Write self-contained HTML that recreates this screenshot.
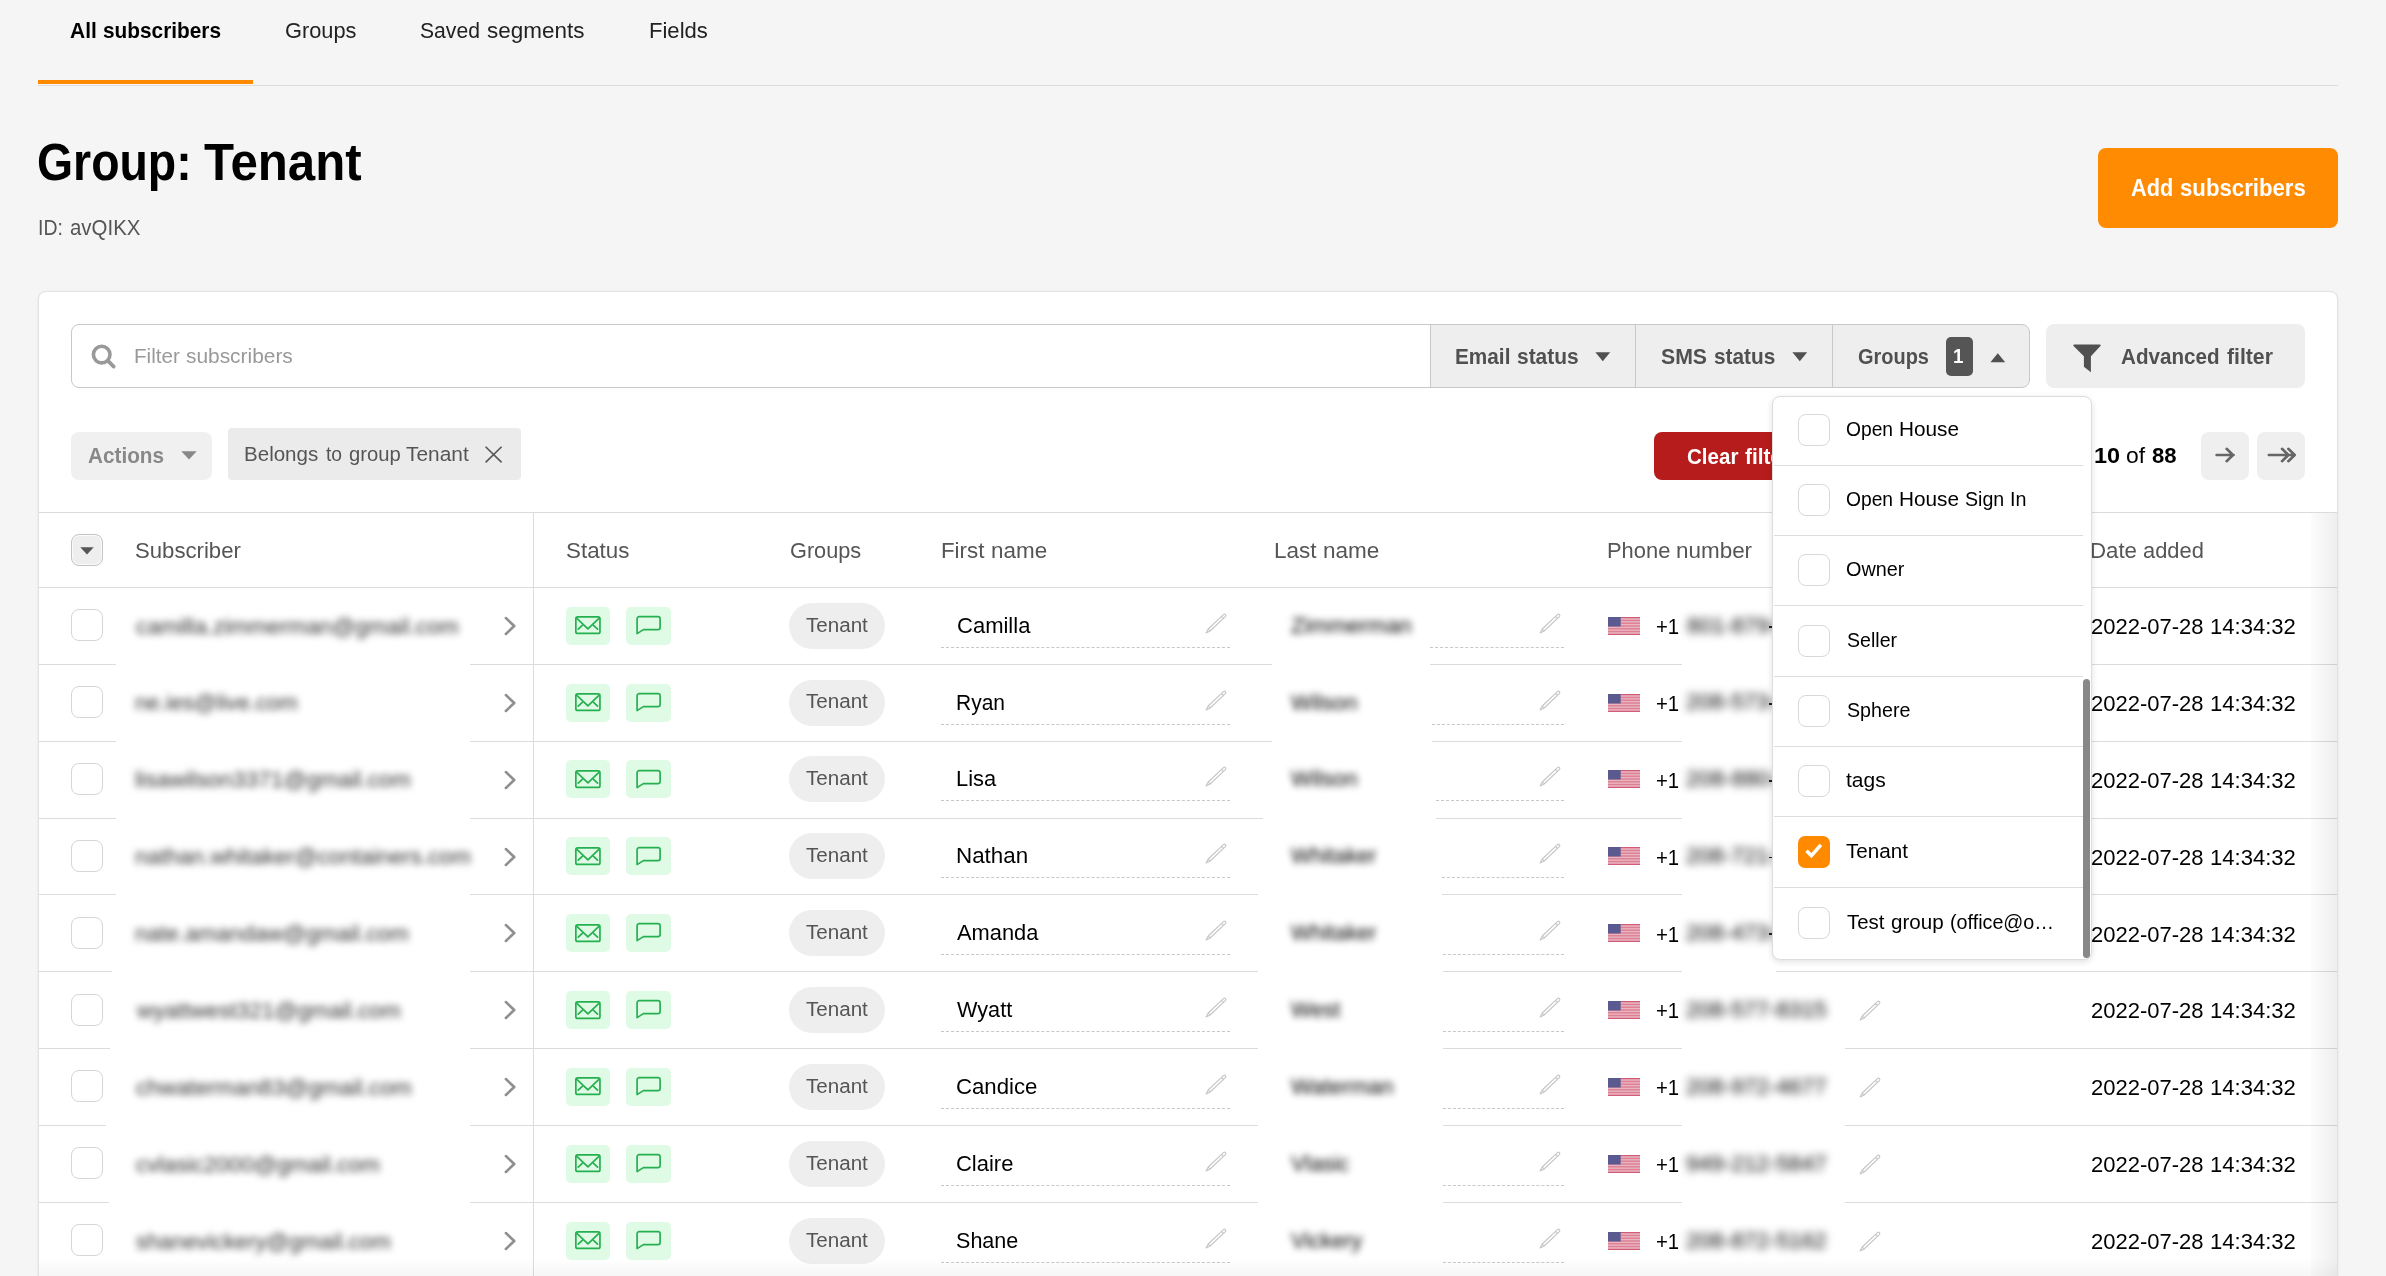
<!DOCTYPE html>
<html lang="en"><head><meta charset="utf-8"><title>Subscribers</title>
<style>
html,body{margin:0;padding:0;background:#f5f5f5;}
body{font-family:"Liberation Sans",sans-serif;overflow:hidden;}
#root{position:relative;width:2386px;height:1276px;overflow:hidden;background:#f5f5f5;}
.t{position:absolute;white-space:nowrap;}
.t span{display:inline-block;transform-origin:0 50%;}
.t i.p{display:inline-block;width:0;height:0;}
.r{position:absolute;box-sizing:border-box;}
svg{position:absolute;overflow:visible;}

</style></head>
<body>
<div id="root">
<div class="t" style="left:69.60px;top:16.00px;font-size:22.5px;line-height:29px;font-weight:bold;color:#000;"><span style="transform:scaleX(0.9309)">All</span></div>
<div class="t" style="left:102.60px;top:16.00px;font-size:22.5px;line-height:29px;font-weight:bold;color:#000;"><span style="transform:scaleX(0.9248)">subscribers</span></div>
<div class="t" style="left:284.53px;top:16.00px;font-size:22.5px;line-height:29px;font-weight:normal;color:#222;"><span style="transform:scaleX(0.9692)">Groups</span></div>
<div class="t" style="left:419.96px;top:16.00px;font-size:22.5px;line-height:29px;font-weight:normal;color:#222;"><span style="transform:scaleX(0.9392)">Saved</span></div>
<div class="t" style="left:486.90px;top:16.00px;font-size:22.5px;line-height:29px;font-weight:normal;color:#222;"><span style="transform:scaleX(0.9980)">segments</span></div>
<div class="t" style="left:649.02px;top:16.00px;font-size:22.5px;line-height:29px;font-weight:normal;color:#222;"><span style="transform:scaleX(0.9801)">Fields</span></div>
<div class="r" style="left:38px;top:85px;width:2300px;height:1px;background:#dcdcdc"></div>
<div class="r" style="left:38px;top:80px;width:215px;height:4px;background:#ff8a00"></div>
<div class="t" style="left:37.38px;top:130.40px;font-size:51px;line-height:66px;font-weight:bold;color:#000;"><span style="transform:scaleX(0.9099)">Group:</span></div>
<div class="t" style="left:203.50px;top:130.40px;font-size:51px;line-height:66px;font-weight:bold;color:#000;"><span style="transform:scaleX(0.9645)">Tenant</span></div>
<div class="t" style="left:37.79px;top:214.00px;font-size:21.5px;line-height:28px;font-weight:normal;color:#555;"><span style="transform:scaleX(0.9059)">ID:</span></div>
<div class="t" style="left:70.20px;top:214.00px;font-size:21.5px;line-height:28px;font-weight:normal;color:#555;"><span style="transform:scaleX(0.9506)">avQIKX</span></div>
<div class="r" style="left:2098px;top:148px;width:240px;height:80px;background:#ff8b03;border-radius:8px"></div>
<div class="t" style="left:2130.90px;top:172.00px;font-size:24px;line-height:31px;font-weight:bold;color:#fff;"><span style="transform:scaleX(0.9045)">Add</span></div>
<div class="t" style="left:2180.30px;top:172.00px;font-size:24px;line-height:31px;font-weight:bold;color:#fff;"><span style="transform:scaleX(0.9247)">subscribers</span></div>
<div class="r" style="left:38px;top:291px;width:2300px;height:1000px;background:#fff;border:1px solid #e2e2e2;border-radius:8px;box-shadow:0 1px 3px rgba(0,0,0,.08)"></div>
<div class="r" style="left:71px;top:324px;width:1360px;height:64px;background:#fff;border:1px solid #c8c8c8;border-radius:8px 0 0 8px"></div>
<svg style="left:89.5px;top:344px" width="26" height="26" viewBox="0 0 26 26"><circle cx="11.7" cy="10.6" r="8.3" fill="none" stroke="#999" stroke-width="3.6"/><line x1="17.8" y1="16.6" x2="23.7" y2="22.6" stroke="#999" stroke-width="3.7" stroke-linecap="round"/></svg>
<div class="t" style="left:133.62px;top:342.00px;font-size:21px;line-height:27px;font-weight:normal;color:#999;"><span style="transform:scaleX(0.9831)">Filter</span></div>
<div class="t" style="left:186.10px;top:342.00px;font-size:21px;line-height:27px;font-weight:normal;color:#999;"><span style="transform:scaleX(0.9947)">subscribers</span></div>
<div class="r" style="left:1430px;top:324px;width:206px;height:64px;background:#eee;border:1px solid #c8c8c8"></div>
<div class="r" style="left:1635px;top:324px;width:198px;height:64px;background:#eee;border:1px solid #c8c8c8"></div>
<div class="r" style="left:1832px;top:324px;width:198px;height:64px;background:#eee;border:1px solid #c8c8c8;border-radius:0 8px 8px 0"></div>
<div class="t" style="left:1454.63px;top:342.60px;font-size:21.5px;line-height:28px;font-weight:bold;color:#505050;"><span style="transform:scaleX(0.9659)">Email</span></div>
<div class="t" style="left:1516.60px;top:342.60px;font-size:21.5px;line-height:28px;font-weight:bold;color:#505050;"><span style="transform:scaleX(0.9737)">status</span></div>
<div class="t" style="left:1661.00px;top:342.60px;font-size:21.5px;line-height:28px;font-weight:bold;color:#505050;"><span style="transform:scaleX(0.9881)">SMS</span></div>
<div class="t" style="left:1713.70px;top:342.60px;font-size:21.5px;line-height:28px;font-weight:bold;color:#505050;"><span style="transform:scaleX(0.9674)">status</span></div>
<div class="t" style="left:1858.00px;top:342.60px;font-size:21.5px;line-height:28px;font-weight:bold;color:#505050;"><span style="transform:scaleX(0.9282)">Groups</span></div>
<svg style="left:1595px;top:352px" width="16" height="10"><path d="M0.4 0.3h14.8l-7.4 9z" fill="#505050"/></svg>
<svg style="left:1792.3px;top:352px" width="16" height="10"><path d="M0.4 0.3h14.8l-7.4 9z" fill="#505050"/></svg>
<div class="r" style="left:1945.5px;top:337px;width:27.5px;height:39px;background:#555;border-radius:5px"></div>
<div class="t" style="left:1953.06px;top:343.40px;font-size:20px;line-height:26px;font-weight:bold;color:#fff;"><span style="transform:scaleX(0.9400)">1</span></div>
<svg style="left:1989.5px;top:353px" width="16" height="10"><path d="M0.4 9.3h14.8l-7.4-9z" fill="#505050"/></svg>
<div class="r" style="left:2046px;top:324px;width:259px;height:64px;background:#eee;border-radius:8px"></div>
<svg style="left:2073.4px;top:343.8px" width="28" height="29" viewBox="0 0 28 29"><path d="M1.2 0.4h25.6a0.9 0.9 0 0 1 0.65 1.5L17.9 12.3v15.9l-7-5.4V12.3L0.55 1.9a0.9 0.9 0 0 1 0.65-1.5z" fill="#505050"/></svg>
<div class="t" style="left:2120.70px;top:342.60px;font-size:21.5px;line-height:28px;font-weight:bold;color:#505050;"><span style="transform:scaleX(0.9594)">Advanced</span></div>
<div class="t" style="left:2226.50px;top:342.60px;font-size:21.5px;line-height:28px;font-weight:bold;color:#505050;"><span style="transform:scaleX(0.9847)">filter</span></div>
<div class="r" style="left:71px;top:432px;width:141px;height:48px;background:#f0f0f0;border-radius:8px"></div>
<div class="t" style="left:87.60px;top:441.80px;font-size:21.5px;line-height:28px;font-weight:bold;color:#888;"><span style="transform:scaleX(0.9635)">Actions</span></div>
<svg style="left:180.5px;top:451.4px" width="16" height="9"><path d="M0.3 0.3h15.4l-7.7 8.2z" fill="#888"/></svg>
<div class="r" style="left:228px;top:428px;width:293px;height:52px;background:#ebebeb;border-radius:4px"></div>
<div class="t" style="left:244.10px;top:440.30px;font-size:20.5px;line-height:27px;font-weight:normal;color:#555;"><span style="transform:scaleX(1.0023)">Belongs</span></div>
<div class="t" style="left:325.90px;top:440.30px;font-size:20.5px;line-height:27px;font-weight:normal;color:#555;"><span style="transform:scaleX(0.9404)">to</span></div>
<div class="t" style="left:348.70px;top:440.30px;font-size:20.5px;line-height:27px;font-weight:normal;color:#555;"><span style="transform:scaleX(0.9860)">group</span></div>
<div class="t" style="left:406.40px;top:440.30px;font-size:20.5px;line-height:27px;font-weight:normal;color:#555;"><span style="transform:scaleX(1.0185)">Tenant</span></div>
<svg style="left:485px;top:446px" width="17" height="17"><path d="M0.6 0.8l16 15.6M16.6 0.8l-16 15.6" stroke="#555" stroke-width="1.6" fill="none"/></svg>
<div class="r" style="left:1654px;top:432px;width:200px;height:48px;background:#b71c1c;border-radius:8px"></div>
<div class="t" style="left:1687.10px;top:442.00px;font-size:22px;line-height:29px;font-weight:bold;color:#fff;"><span style="transform:scaleX(0.9338)">Clear</span></div>
<div class="t" style="left:1745.20px;top:442.00px;font-size:22px;line-height:29px;font-weight:bold;color:#fff;"><span style="transform:scaleX(0.9436)">filter</span></div>
<div class="t" style="left:2093.53px;top:441.00px;font-size:22px;line-height:29px;font-weight:bold;color:#000;"><span style="transform:scaleX(1.0673)">10</span></div>
<div class="t" style="left:2126.00px;top:441.00px;font-size:22px;line-height:29px;font-weight:normal;color:#000;"><span style="transform:scaleX(1.0398)">of</span></div>
<div class="t" style="left:2152.00px;top:441.00px;font-size:22px;line-height:29px;font-weight:bold;color:#000;"><span style="transform:scaleX(1.0027)">88</span></div>
<div class="r" style="left:2201px;top:432px;width:48px;height:48px;background:#efefef;border-radius:8px"></div>
<div class="r" style="left:2257px;top:432px;width:48px;height:48px;background:#efefef;border-radius:8px"></div>
<svg style="left:2214px;top:446px" width="22" height="18"><path d="M2.6 9h17M12.6 2.8l6.4 6.2-6.4 6.2" stroke="#666" stroke-width="2.6" fill="none" stroke-linecap="round" stroke-linejoin="round"/></svg>
<svg style="left:2266px;top:446px" width="30" height="18"><path d="M2.8 9h23M16 2.8l6.4 6.2-6.4 6.2M22.3 2.8l6.4 6.2-6.4 6.2" stroke="#666" stroke-width="2.6" fill="none" stroke-linecap="round" stroke-linejoin="round"/></svg>
<div class="r" style="left:39px;top:512px;width:2298px;height:1px;background:#dcdcdc"></div>
<div class="r" style="left:39px;top:587px;width:2298px;height:1px;background:#dcdcdc"></div>
<div class="t" style="left:135.22px;top:536.20px;font-size:22.5px;line-height:29px;font-weight:normal;color:#555;"><span style="transform:scaleX(0.9846)">Subscriber</span></div>
<div class="t" style="left:565.61px;top:536.20px;font-size:22.5px;line-height:29px;font-weight:normal;color:#555;"><span style="transform:scaleX(0.9946)">Status</span></div>
<div class="t" style="left:789.63px;top:536.20px;font-size:22.5px;line-height:29px;font-weight:normal;color:#555;"><span style="transform:scaleX(0.9651)">Groups</span></div>
<div class="t" style="left:940.81px;top:536.20px;font-size:22.5px;line-height:29px;font-weight:normal;color:#555;"><span style="transform:scaleX(0.9911)">First</span></div>
<div class="t" style="left:990.60px;top:536.20px;font-size:22.5px;line-height:29px;font-weight:normal;color:#555;"><span style="transform:scaleX(0.9969)">name</span></div>
<div class="t" style="left:1273.80px;top:536.20px;font-size:22.5px;line-height:29px;font-weight:normal;color:#555;"><span style="transform:scaleX(1.0005)">Last</span></div>
<div class="t" style="left:1322.60px;top:536.20px;font-size:22.5px;line-height:29px;font-weight:normal;color:#555;"><span style="transform:scaleX(1.0006)">name</span></div>
<div class="t" style="left:1607.33px;top:536.20px;font-size:22.5px;line-height:29px;font-weight:normal;color:#555;"><span style="transform:scaleX(0.9741)">Phone</span></div>
<div class="t" style="left:1676.40px;top:536.20px;font-size:22.5px;line-height:29px;font-weight:normal;color:#555;"><span style="transform:scaleX(0.9974)">number</span></div>
<div class="t" style="left:2089.61px;top:536.20px;font-size:22.5px;line-height:29px;font-weight:normal;color:#555;"><span style="transform:scaleX(0.9888)">Date</span></div>
<div class="t" style="left:2143.20px;top:536.20px;font-size:22.5px;line-height:29px;font-weight:normal;color:#555;"><span style="transform:scaleX(0.9717)">added</span></div>
<div class="r" style="left:71px;top:534px;width:32px;height:32px;background:#eee;border:1px solid #c4c4c4;border-radius:8px;box-shadow:inset 0 0 0 1px #fafafa"></div>
<svg style="left:80px;top:546.8px" width="14" height="8"><path d="M0.3 0.3h13.4l-6.7 7.2z" fill="#555"/></svg>
<div class="r" style="left:39px;top:664px;width:77px;height:1px;background:#dcdcdc"></div>
<div class="r" style="left:470px;top:664px;width:802px;height:1px;background:#dcdcdc"></div>
<div class="r" style="left:1430px;top:664px;width:252px;height:1px;background:#dcdcdc"></div>
<div class="r" style="left:1845px;top:664px;width:492px;height:1px;background:#dcdcdc"></div>
<div class="r" style="left:39px;top:741px;width:77px;height:1px;background:#dcdcdc"></div>
<div class="r" style="left:470px;top:741px;width:802px;height:1px;background:#dcdcdc"></div>
<div class="r" style="left:1432px;top:741px;width:250px;height:1px;background:#dcdcdc"></div>
<div class="r" style="left:1845px;top:741px;width:492px;height:1px;background:#dcdcdc"></div>
<div class="r" style="left:39px;top:818px;width:77px;height:1px;background:#dcdcdc"></div>
<div class="r" style="left:470px;top:818px;width:793px;height:1px;background:#dcdcdc"></div>
<div class="r" style="left:1436px;top:818px;width:246px;height:1px;background:#dcdcdc"></div>
<div class="r" style="left:1845px;top:818px;width:492px;height:1px;background:#dcdcdc"></div>
<div class="r" style="left:39px;top:894px;width:77px;height:1px;background:#dcdcdc"></div>
<div class="r" style="left:470px;top:894px;width:788px;height:1px;background:#dcdcdc"></div>
<div class="r" style="left:1442px;top:894px;width:240px;height:1px;background:#dcdcdc"></div>
<div class="r" style="left:1845px;top:894px;width:492px;height:1px;background:#dcdcdc"></div>
<div class="r" style="left:39px;top:971px;width:73px;height:1px;background:#dcdcdc"></div>
<div class="r" style="left:470px;top:971px;width:788px;height:1px;background:#dcdcdc"></div>
<div class="r" style="left:1443px;top:971px;width:239px;height:1px;background:#dcdcdc"></div>
<div class="r" style="left:1776px;top:971px;width:561px;height:1px;background:#dcdcdc"></div>
<div class="r" style="left:39px;top:1048px;width:71px;height:1px;background:#dcdcdc"></div>
<div class="r" style="left:470px;top:1048px;width:788px;height:1px;background:#dcdcdc"></div>
<div class="r" style="left:1443px;top:1048px;width:239px;height:1px;background:#dcdcdc"></div>
<div class="r" style="left:1845px;top:1048px;width:492px;height:1px;background:#dcdcdc"></div>
<div class="r" style="left:39px;top:1125px;width:67px;height:1px;background:#dcdcdc"></div>
<div class="r" style="left:470px;top:1125px;width:788px;height:1px;background:#dcdcdc"></div>
<div class="r" style="left:1443px;top:1125px;width:239px;height:1px;background:#dcdcdc"></div>
<div class="r" style="left:1845px;top:1125px;width:492px;height:1px;background:#dcdcdc"></div>
<div class="r" style="left:39px;top:1202px;width:70px;height:1px;background:#dcdcdc"></div>
<div class="r" style="left:470px;top:1202px;width:788px;height:1px;background:#dcdcdc"></div>
<div class="r" style="left:1443px;top:1202px;width:239px;height:1px;background:#dcdcdc"></div>
<div class="r" style="left:1845px;top:1202px;width:492px;height:1px;background:#dcdcdc"></div>
<div class="r" style="left:71px;top:609px;width:32px;height:32px;background:#fff;border:1px solid #d6d6d6;border-radius:8px"></div>
<div class="t" style="left:136.00px;top:611.50px;font-size:22.5px;line-height:29px;font-weight:normal;color:#303030;filter:blur(3.8px);"><span style="transform:scaleX(1.0113)">camilla.zimmerman@gmail.com</span></div>
<svg style="left:503px;top:615.9000000000001px" width="14" height="20"><path d="M2.9 2.1l8.3 7.9-8.3 7.9" stroke="#909090" stroke-width="2.7" fill="none" stroke-linecap="round" stroke-linejoin="round"/></svg>
<div class="r" style="left:566px;top:606.7px;width:44px;height:38px;background:#dffbe6;border-radius:5px"></div>
<div class="r" style="left:626px;top:606.7px;width:45px;height:38px;background:#dffbe6;border-radius:5px"></div>
<svg style="left:575px;top:616.2px" width="26" height="19"><rect x="0.85" y="0.85" width="24.1" height="16.6" rx="1.8" fill="none" stroke="#25b04f" stroke-width="1.7"/><path d="M1.6 2.2L12.9 12.8L24.2 2.2M3.2 13.2L7.3 9.3M22.6 13.2L18.5 9.3" fill="none" stroke="#25b04f" stroke-width="1.7" stroke-linecap="round" stroke-linejoin="round"/></svg>
<svg style="left:636px;top:614.9000000000001px" width="26" height="21"><path d="M3.2 1.65H22a2.1 2.1 0 0 1 2.1 2.1V12.5a2.1 2.1 0 0 1-2.1 2.1H7.4L1.1 18.6V3.75a2.1 2.1 0 0 1 2.1-2.1z" fill="none" stroke="#25b04f" stroke-width="1.7" stroke-linejoin="round"/></svg>
<div class="r" style="left:789px;top:602.7px;width:96px;height:46px;background:#eee;border-radius:23px"></div>
<div class="t" style="left:806.00px;top:611.60px;font-size:20px;line-height:26px;font-weight:normal;color:#555;"><span style="transform:scaleX(1.0299)">Tenant</span></div>
<div class="t" style="left:956.72px;top:610.70px;font-size:22.5px;line-height:29px;font-weight:normal;color:#000;"><span style="transform:scaleX(0.9785)">Camilla</span></div>
<div class="r" style="left:941px;top:646.7px;width:289px;height:1px;border-top:1px dashed #c8c8c8"></div>
<svg style="left:1205px;top:611.7px" width="22" height="22" viewBox="0 0 22 22"><path d="M1.1 20.9L3.19 16.98L18.44 2.57A1.4 1.4 0 0 1 20.36 4.61L5.11 19.02ZM3.19 16.98L5.11 19.02M16.47 4.42L18.39 6.46" fill="none" stroke="#c6c6c6" stroke-width="1.15" stroke-linejoin="round"/></svg>
<div class="r" style="left:1430px;top:646.7px;width:134px;height:1px;border-top:1px dashed #c8c8c8"></div>
<div class="t" style="left:1291.00px;top:610.70px;font-size:22.5px;line-height:29px;font-weight:normal;color:#000;filter:blur(3.6px);"><span style="transform:scaleX(1.0043)">Zimmerman</span></div>
<svg style="left:1539px;top:611.7px" width="22" height="22" viewBox="0 0 22 22"><path d="M1.1 20.9L3.19 16.98L18.44 2.57A1.4 1.4 0 0 1 20.36 4.61L5.11 19.02ZM3.19 16.98L5.11 19.02M16.47 4.42L18.39 6.46" fill="none" stroke="#c6c6c6" stroke-width="1.15" stroke-linejoin="round"/></svg>
<svg style="left:1608px;top:616.7px" width="32" height="18" viewBox="0 0 32 18"><rect width="32" height="18" fill="#ebb5c0"/><rect y="0.00" width="32" height="1.39" fill="#dc7f95"/><rect y="2.77" width="32" height="1.39" fill="#dc7f95"/><rect y="5.54" width="32" height="1.39" fill="#dc7f95"/><rect y="8.31" width="32" height="1.39" fill="#dc7f95"/><rect y="11.08" width="32" height="1.39" fill="#dc7f95"/><rect y="13.85" width="32" height="1.39" fill="#dc7f95"/><rect y="16.62" width="32" height="1.39" fill="#dc7f95"/><rect width="32" height="1" fill="#cf5d78"/><rect y="17" width="32" height="1" fill="#cf5d78"/><rect width="12.7" height="9.5" fill="#5a5a91"/></svg>
<div class="t" style="left:1655.70px;top:612.00px;font-size:22.5px;line-height:29px;font-weight:normal;color:#000;"><span style="transform:scaleX(0.9031)">+1</span></div>
<div class="t" style="left:1687.00px;top:610.50px;font-size:22.5px;line-height:29px;font-weight:normal;color:#000;filter:blur(4px);"><span style="transform:scaleX(0.9957)">801-879-5512</span></div>
<svg style="left:1859px;top:614.6px" width="22" height="22" viewBox="0 0 22 22"><path d="M1.1 20.9L3.19 16.98L18.44 2.57A1.4 1.4 0 0 1 20.36 4.61L5.11 19.02ZM3.19 16.98L5.11 19.02M16.47 4.42L18.39 6.46" fill="none" stroke="#c6c6c6" stroke-width="1.15" stroke-linejoin="round"/></svg>
<div class="r" style="left:1768.6px;top:625.9000000000001px;width:4px;height:1.9px;background:#222"></div>
<div class="t" style="left:2090.72px;top:612.00px;font-size:22.5px;line-height:29px;font-weight:normal;color:#000;"><span style="transform:scaleX(0.9782)">2022-07-28</span></div>
<div class="t" style="left:2209.52px;top:612.00px;font-size:22.5px;line-height:29px;font-weight:normal;color:#000;"><span style="transform:scaleX(0.9794)">14:34:32</span></div>
<div class="r" style="left:71px;top:686px;width:32px;height:32px;background:#fff;border:1px solid #d6d6d6;border-radius:8px"></div>
<div class="t" style="left:135.02px;top:688.38px;font-size:22.5px;line-height:29px;font-weight:normal;color:#303030;filter:blur(3.8px);"><span style="transform:scaleX(0.9838)">ne.ies@live.com</span></div>
<svg style="left:503px;top:692.7750000000001px" width="14" height="20"><path d="M2.9 2.1l8.3 7.9-8.3 7.9" stroke="#909090" stroke-width="2.7" fill="none" stroke-linecap="round" stroke-linejoin="round"/></svg>
<div class="r" style="left:566px;top:683.575px;width:44px;height:38px;background:#dffbe6;border-radius:5px"></div>
<div class="r" style="left:626px;top:683.575px;width:45px;height:38px;background:#dffbe6;border-radius:5px"></div>
<svg style="left:575px;top:693.075px" width="26" height="19"><rect x="0.85" y="0.85" width="24.1" height="16.6" rx="1.8" fill="none" stroke="#25b04f" stroke-width="1.7"/><path d="M1.6 2.2L12.9 12.8L24.2 2.2M3.2 13.2L7.3 9.3M22.6 13.2L18.5 9.3" fill="none" stroke="#25b04f" stroke-width="1.7" stroke-linecap="round" stroke-linejoin="round"/></svg>
<svg style="left:636px;top:691.7750000000001px" width="26" height="21"><path d="M3.2 1.65H22a2.1 2.1 0 0 1 2.1 2.1V12.5a2.1 2.1 0 0 1-2.1 2.1H7.4L1.1 18.6V3.75a2.1 2.1 0 0 1 2.1-2.1z" fill="none" stroke="#25b04f" stroke-width="1.7" stroke-linejoin="round"/></svg>
<div class="r" style="left:789px;top:679.575px;width:96px;height:46px;background:#eee;border-radius:23px"></div>
<div class="t" style="left:806.00px;top:688.48px;font-size:20px;line-height:26px;font-weight:normal;color:#555;"><span style="transform:scaleX(1.0299)">Tenant</span></div>
<div class="t" style="left:956.47px;top:687.58px;font-size:22.5px;line-height:29px;font-weight:normal;color:#000;"><span style="transform:scaleX(0.9331)">Ryan</span></div>
<div class="r" style="left:941px;top:723.575px;width:289px;height:1px;border-top:1px dashed #c8c8c8"></div>
<svg style="left:1205px;top:688.575px" width="22" height="22" viewBox="0 0 22 22"><path d="M1.1 20.9L3.19 16.98L18.44 2.57A1.4 1.4 0 0 1 20.36 4.61L5.11 19.02ZM3.19 16.98L5.11 19.02M16.47 4.42L18.39 6.46" fill="none" stroke="#c6c6c6" stroke-width="1.15" stroke-linejoin="round"/></svg>
<div class="r" style="left:1432px;top:723.575px;width:132px;height:1px;border-top:1px dashed #c8c8c8"></div>
<div class="t" style="left:1291.00px;top:687.58px;font-size:22.5px;line-height:29px;font-weight:normal;color:#000;filter:blur(3.6px);"><span style="transform:scaleX(0.9851)">Wilson</span></div>
<svg style="left:1539px;top:688.575px" width="22" height="22" viewBox="0 0 22 22"><path d="M1.1 20.9L3.19 16.98L18.44 2.57A1.4 1.4 0 0 1 20.36 4.61L5.11 19.02ZM3.19 16.98L5.11 19.02M16.47 4.42L18.39 6.46" fill="none" stroke="#c6c6c6" stroke-width="1.15" stroke-linejoin="round"/></svg>
<svg style="left:1608px;top:693.575px" width="32" height="18" viewBox="0 0 32 18"><rect width="32" height="18" fill="#ebb5c0"/><rect y="0.00" width="32" height="1.39" fill="#dc7f95"/><rect y="2.77" width="32" height="1.39" fill="#dc7f95"/><rect y="5.54" width="32" height="1.39" fill="#dc7f95"/><rect y="8.31" width="32" height="1.39" fill="#dc7f95"/><rect y="11.08" width="32" height="1.39" fill="#dc7f95"/><rect y="13.85" width="32" height="1.39" fill="#dc7f95"/><rect y="16.62" width="32" height="1.39" fill="#dc7f95"/><rect width="32" height="1" fill="#cf5d78"/><rect y="17" width="32" height="1" fill="#cf5d78"/><rect width="12.7" height="9.5" fill="#5a5a91"/></svg>
<div class="t" style="left:1655.70px;top:688.88px;font-size:22.5px;line-height:29px;font-weight:normal;color:#000;"><span style="transform:scaleX(0.9031)">+1</span></div>
<div class="t" style="left:1686.00px;top:687.38px;font-size:22.5px;line-height:29px;font-weight:normal;color:#000;filter:blur(4px);"><span style="transform:scaleX(1.0028)">208-573-4410</span></div>
<svg style="left:1859px;top:691.475px" width="22" height="22" viewBox="0 0 22 22"><path d="M1.1 20.9L3.19 16.98L18.44 2.57A1.4 1.4 0 0 1 20.36 4.61L5.11 19.02ZM3.19 16.98L5.11 19.02M16.47 4.42L18.39 6.46" fill="none" stroke="#c6c6c6" stroke-width="1.15" stroke-linejoin="round"/></svg>
<div class="r" style="left:1768.6px;top:702.7750000000001px;width:4px;height:1.9px;background:#222"></div>
<div class="t" style="left:2090.72px;top:688.88px;font-size:22.5px;line-height:29px;font-weight:normal;color:#000;"><span style="transform:scaleX(0.9782)">2022-07-28</span></div>
<div class="t" style="left:2209.52px;top:688.88px;font-size:22.5px;line-height:29px;font-weight:normal;color:#000;"><span style="transform:scaleX(0.9794)">14:34:32</span></div>
<div class="r" style="left:71px;top:763px;width:32px;height:32px;background:#fff;border:1px solid #d6d6d6;border-radius:8px"></div>
<div class="t" style="left:134.99px;top:765.25px;font-size:22.5px;line-height:29px;font-weight:normal;color:#303030;filter:blur(3.8px);"><span style="transform:scaleX(1.0150)">lisawilson3371@gmail.com</span></div>
<svg style="left:503px;top:769.6500000000001px" width="14" height="20"><path d="M2.9 2.1l8.3 7.9-8.3 7.9" stroke="#909090" stroke-width="2.7" fill="none" stroke-linecap="round" stroke-linejoin="round"/></svg>
<div class="r" style="left:566px;top:760.45px;width:44px;height:38px;background:#dffbe6;border-radius:5px"></div>
<div class="r" style="left:626px;top:760.45px;width:45px;height:38px;background:#dffbe6;border-radius:5px"></div>
<svg style="left:575px;top:769.95px" width="26" height="19"><rect x="0.85" y="0.85" width="24.1" height="16.6" rx="1.8" fill="none" stroke="#25b04f" stroke-width="1.7"/><path d="M1.6 2.2L12.9 12.8L24.2 2.2M3.2 13.2L7.3 9.3M22.6 13.2L18.5 9.3" fill="none" stroke="#25b04f" stroke-width="1.7" stroke-linecap="round" stroke-linejoin="round"/></svg>
<svg style="left:636px;top:768.6500000000001px" width="26" height="21"><path d="M3.2 1.65H22a2.1 2.1 0 0 1 2.1 2.1V12.5a2.1 2.1 0 0 1-2.1 2.1H7.4L1.1 18.6V3.75a2.1 2.1 0 0 1 2.1-2.1z" fill="none" stroke="#25b04f" stroke-width="1.7" stroke-linejoin="round"/></svg>
<div class="r" style="left:789px;top:756.45px;width:96px;height:46px;background:#eee;border-radius:23px"></div>
<div class="t" style="left:806.00px;top:765.35px;font-size:20px;line-height:26px;font-weight:normal;color:#555;"><span style="transform:scaleX(1.0299)">Tenant</span></div>
<div class="t" style="left:956.43px;top:764.45px;font-size:22.5px;line-height:29px;font-weight:normal;color:#000;"><span style="transform:scaleX(0.9715)">Lisa</span></div>
<div class="r" style="left:941px;top:800.45px;width:289px;height:1px;border-top:1px dashed #c8c8c8"></div>
<svg style="left:1205px;top:765.45px" width="22" height="22" viewBox="0 0 22 22"><path d="M1.1 20.9L3.19 16.98L18.44 2.57A1.4 1.4 0 0 1 20.36 4.61L5.11 19.02ZM3.19 16.98L5.11 19.02M16.47 4.42L18.39 6.46" fill="none" stroke="#c6c6c6" stroke-width="1.15" stroke-linejoin="round"/></svg>
<div class="r" style="left:1436px;top:800.45px;width:128px;height:1px;border-top:1px dashed #c8c8c8"></div>
<div class="t" style="left:1291.00px;top:764.45px;font-size:22.5px;line-height:29px;font-weight:normal;color:#000;filter:blur(3.6px);"><span style="transform:scaleX(0.9851)">Wilson</span></div>
<svg style="left:1539px;top:765.45px" width="22" height="22" viewBox="0 0 22 22"><path d="M1.1 20.9L3.19 16.98L18.44 2.57A1.4 1.4 0 0 1 20.36 4.61L5.11 19.02ZM3.19 16.98L5.11 19.02M16.47 4.42L18.39 6.46" fill="none" stroke="#c6c6c6" stroke-width="1.15" stroke-linejoin="round"/></svg>
<svg style="left:1608px;top:770.45px" width="32" height="18" viewBox="0 0 32 18"><rect width="32" height="18" fill="#ebb5c0"/><rect y="0.00" width="32" height="1.39" fill="#dc7f95"/><rect y="2.77" width="32" height="1.39" fill="#dc7f95"/><rect y="5.54" width="32" height="1.39" fill="#dc7f95"/><rect y="8.31" width="32" height="1.39" fill="#dc7f95"/><rect y="11.08" width="32" height="1.39" fill="#dc7f95"/><rect y="13.85" width="32" height="1.39" fill="#dc7f95"/><rect y="16.62" width="32" height="1.39" fill="#dc7f95"/><rect width="32" height="1" fill="#cf5d78"/><rect y="17" width="32" height="1" fill="#cf5d78"/><rect width="12.7" height="9.5" fill="#5a5a91"/></svg>
<div class="t" style="left:1655.70px;top:765.75px;font-size:22.5px;line-height:29px;font-weight:normal;color:#000;"><span style="transform:scaleX(0.9031)">+1</span></div>
<div class="t" style="left:1685.98px;top:764.25px;font-size:22.5px;line-height:29px;font-weight:normal;color:#000;filter:blur(4px);"><span style="transform:scaleX(1.0151)">208-880-1192</span></div>
<svg style="left:1859px;top:768.35px" width="22" height="22" viewBox="0 0 22 22"><path d="M1.1 20.9L3.19 16.98L18.44 2.57A1.4 1.4 0 0 1 20.36 4.61L5.11 19.02ZM3.19 16.98L5.11 19.02M16.47 4.42L18.39 6.46" fill="none" stroke="#c6c6c6" stroke-width="1.15" stroke-linejoin="round"/></svg>
<div class="r" style="left:1768.6px;top:779.6500000000001px;width:4px;height:1.9px;background:#222"></div>
<div class="t" style="left:2090.72px;top:765.75px;font-size:22.5px;line-height:29px;font-weight:normal;color:#000;"><span style="transform:scaleX(0.9782)">2022-07-28</span></div>
<div class="t" style="left:2209.52px;top:765.75px;font-size:22.5px;line-height:29px;font-weight:normal;color:#000;"><span style="transform:scaleX(0.9794)">14:34:32</span></div>
<div class="r" style="left:71px;top:840px;width:32px;height:32px;background:#fff;border:1px solid #d6d6d6;border-radius:8px"></div>
<div class="t" style="left:135.00px;top:842.12px;font-size:22.5px;line-height:29px;font-weight:normal;color:#303030;filter:blur(3.8px);"><span style="transform:scaleX(1.0045)">nathan.whitaker@containers.com</span></div>
<svg style="left:503px;top:846.5250000000001px" width="14" height="20"><path d="M2.9 2.1l8.3 7.9-8.3 7.9" stroke="#909090" stroke-width="2.7" fill="none" stroke-linecap="round" stroke-linejoin="round"/></svg>
<div class="r" style="left:566px;top:837.325px;width:44px;height:38px;background:#dffbe6;border-radius:5px"></div>
<div class="r" style="left:626px;top:837.325px;width:45px;height:38px;background:#dffbe6;border-radius:5px"></div>
<svg style="left:575px;top:846.825px" width="26" height="19"><rect x="0.85" y="0.85" width="24.1" height="16.6" rx="1.8" fill="none" stroke="#25b04f" stroke-width="1.7"/><path d="M1.6 2.2L12.9 12.8L24.2 2.2M3.2 13.2L7.3 9.3M22.6 13.2L18.5 9.3" fill="none" stroke="#25b04f" stroke-width="1.7" stroke-linecap="round" stroke-linejoin="round"/></svg>
<svg style="left:636px;top:845.5250000000001px" width="26" height="21"><path d="M3.2 1.65H22a2.1 2.1 0 0 1 2.1 2.1V12.5a2.1 2.1 0 0 1-2.1 2.1H7.4L1.1 18.6V3.75a2.1 2.1 0 0 1 2.1-2.1z" fill="none" stroke="#25b04f" stroke-width="1.7" stroke-linejoin="round"/></svg>
<div class="r" style="left:789px;top:833.325px;width:96px;height:46px;background:#eee;border-radius:23px"></div>
<div class="t" style="left:806.00px;top:842.23px;font-size:20px;line-height:26px;font-weight:normal;color:#555;"><span style="transform:scaleX(1.0299)">Tenant</span></div>
<div class="t" style="left:956.41px;top:841.33px;font-size:22.5px;line-height:29px;font-weight:normal;color:#000;"><span style="transform:scaleX(0.9938)">Nathan</span></div>
<div class="r" style="left:941px;top:877.325px;width:289px;height:1px;border-top:1px dashed #c8c8c8"></div>
<svg style="left:1205px;top:842.325px" width="22" height="22" viewBox="0 0 22 22"><path d="M1.1 20.9L3.19 16.98L18.44 2.57A1.4 1.4 0 0 1 20.36 4.61L5.11 19.02ZM3.19 16.98L5.11 19.02M16.47 4.42L18.39 6.46" fill="none" stroke="#c6c6c6" stroke-width="1.15" stroke-linejoin="round"/></svg>
<div class="r" style="left:1442px;top:877.325px;width:122px;height:1px;border-top:1px dashed #c8c8c8"></div>
<div class="t" style="left:1291.00px;top:841.33px;font-size:22.5px;line-height:29px;font-weight:normal;color:#000;filter:blur(3.6px);"><span style="transform:scaleX(0.9633)">Whitaker</span></div>
<svg style="left:1539px;top:842.325px" width="22" height="22" viewBox="0 0 22 22"><path d="M1.1 20.9L3.19 16.98L18.44 2.57A1.4 1.4 0 0 1 20.36 4.61L5.11 19.02ZM3.19 16.98L5.11 19.02M16.47 4.42L18.39 6.46" fill="none" stroke="#c6c6c6" stroke-width="1.15" stroke-linejoin="round"/></svg>
<svg style="left:1608px;top:847.325px" width="32" height="18" viewBox="0 0 32 18"><rect width="32" height="18" fill="#ebb5c0"/><rect y="0.00" width="32" height="1.39" fill="#dc7f95"/><rect y="2.77" width="32" height="1.39" fill="#dc7f95"/><rect y="5.54" width="32" height="1.39" fill="#dc7f95"/><rect y="8.31" width="32" height="1.39" fill="#dc7f95"/><rect y="11.08" width="32" height="1.39" fill="#dc7f95"/><rect y="13.85" width="32" height="1.39" fill="#dc7f95"/><rect y="16.62" width="32" height="1.39" fill="#dc7f95"/><rect width="32" height="1" fill="#cf5d78"/><rect y="17" width="32" height="1" fill="#cf5d78"/><rect width="12.7" height="9.5" fill="#5a5a91"/></svg>
<div class="t" style="left:1655.70px;top:842.62px;font-size:22.5px;line-height:29px;font-weight:normal;color:#000;"><span style="transform:scaleX(0.9031)">+1</span></div>
<div class="t" style="left:1686.00px;top:841.12px;font-size:22.5px;line-height:29px;font-weight:normal;color:#000;filter:blur(4px);"><span style="transform:scaleX(1.0028)">208-721-3381</span></div>
<svg style="left:1859px;top:845.225px" width="22" height="22" viewBox="0 0 22 22"><path d="M1.1 20.9L3.19 16.98L18.44 2.57A1.4 1.4 0 0 1 20.36 4.61L5.11 19.02ZM3.19 16.98L5.11 19.02M16.47 4.42L18.39 6.46" fill="none" stroke="#c6c6c6" stroke-width="1.15" stroke-linejoin="round"/></svg>
<div class="r" style="left:1768.6px;top:856.5250000000001px;width:4px;height:1.9px;background:#222"></div>
<div class="t" style="left:2090.72px;top:842.62px;font-size:22.5px;line-height:29px;font-weight:normal;color:#000;"><span style="transform:scaleX(0.9782)">2022-07-28</span></div>
<div class="t" style="left:2209.52px;top:842.62px;font-size:22.5px;line-height:29px;font-weight:normal;color:#000;"><span style="transform:scaleX(0.9794)">14:34:32</span></div>
<div class="r" style="left:71px;top:917px;width:32px;height:32px;background:#fff;border:1px solid #d6d6d6;border-radius:8px"></div>
<div class="t" style="left:135.00px;top:919.00px;font-size:22.5px;line-height:29px;font-weight:normal;color:#303030;filter:blur(3.8px);"><span style="transform:scaleX(1.0029)">nate.amandaw@gmail.com</span></div>
<svg style="left:503px;top:923.4000000000001px" width="14" height="20"><path d="M2.9 2.1l8.3 7.9-8.3 7.9" stroke="#909090" stroke-width="2.7" fill="none" stroke-linecap="round" stroke-linejoin="round"/></svg>
<div class="r" style="left:566px;top:914.2px;width:44px;height:38px;background:#dffbe6;border-radius:5px"></div>
<div class="r" style="left:626px;top:914.2px;width:45px;height:38px;background:#dffbe6;border-radius:5px"></div>
<svg style="left:575px;top:923.7px" width="26" height="19"><rect x="0.85" y="0.85" width="24.1" height="16.6" rx="1.8" fill="none" stroke="#25b04f" stroke-width="1.7"/><path d="M1.6 2.2L12.9 12.8L24.2 2.2M3.2 13.2L7.3 9.3M22.6 13.2L18.5 9.3" fill="none" stroke="#25b04f" stroke-width="1.7" stroke-linecap="round" stroke-linejoin="round"/></svg>
<svg style="left:636px;top:922.4000000000001px" width="26" height="21"><path d="M3.2 1.65H22a2.1 2.1 0 0 1 2.1 2.1V12.5a2.1 2.1 0 0 1-2.1 2.1H7.4L1.1 18.6V3.75a2.1 2.1 0 0 1 2.1-2.1z" fill="none" stroke="#25b04f" stroke-width="1.7" stroke-linejoin="round"/></svg>
<div class="r" style="left:789px;top:910.2px;width:96px;height:46px;background:#eee;border-radius:23px"></div>
<div class="t" style="left:806.00px;top:919.10px;font-size:20px;line-height:26px;font-weight:normal;color:#555;"><span style="transform:scaleX(1.0299)">Tenant</span></div>
<div class="t" style="left:957.10px;top:918.20px;font-size:22.5px;line-height:29px;font-weight:normal;color:#000;"><span style="transform:scaleX(0.9716)">Amanda</span></div>
<div class="r" style="left:941px;top:954.2px;width:289px;height:1px;border-top:1px dashed #c8c8c8"></div>
<svg style="left:1205px;top:919.2px" width="22" height="22" viewBox="0 0 22 22"><path d="M1.1 20.9L3.19 16.98L18.44 2.57A1.4 1.4 0 0 1 20.36 4.61L5.11 19.02ZM3.19 16.98L5.11 19.02M16.47 4.42L18.39 6.46" fill="none" stroke="#c6c6c6" stroke-width="1.15" stroke-linejoin="round"/></svg>
<div class="r" style="left:1443px;top:954.2px;width:121px;height:1px;border-top:1px dashed #c8c8c8"></div>
<div class="t" style="left:1291.00px;top:918.20px;font-size:22.5px;line-height:29px;font-weight:normal;color:#000;filter:blur(3.6px);"><span style="transform:scaleX(0.9633)">Whitaker</span></div>
<svg style="left:1539px;top:919.2px" width="22" height="22" viewBox="0 0 22 22"><path d="M1.1 20.9L3.19 16.98L18.44 2.57A1.4 1.4 0 0 1 20.36 4.61L5.11 19.02ZM3.19 16.98L5.11 19.02M16.47 4.42L18.39 6.46" fill="none" stroke="#c6c6c6" stroke-width="1.15" stroke-linejoin="round"/></svg>
<svg style="left:1608px;top:924.2px" width="32" height="18" viewBox="0 0 32 18"><rect width="32" height="18" fill="#ebb5c0"/><rect y="0.00" width="32" height="1.39" fill="#dc7f95"/><rect y="2.77" width="32" height="1.39" fill="#dc7f95"/><rect y="5.54" width="32" height="1.39" fill="#dc7f95"/><rect y="8.31" width="32" height="1.39" fill="#dc7f95"/><rect y="11.08" width="32" height="1.39" fill="#dc7f95"/><rect y="13.85" width="32" height="1.39" fill="#dc7f95"/><rect y="16.62" width="32" height="1.39" fill="#dc7f95"/><rect width="32" height="1" fill="#cf5d78"/><rect y="17" width="32" height="1" fill="#cf5d78"/><rect width="12.7" height="9.5" fill="#5a5a91"/></svg>
<div class="t" style="left:1655.70px;top:919.50px;font-size:22.5px;line-height:29px;font-weight:normal;color:#000;"><span style="transform:scaleX(0.9031)">+1</span></div>
<div class="t" style="left:1686.00px;top:918.00px;font-size:22.5px;line-height:29px;font-weight:normal;color:#000;filter:blur(4px);"><span style="transform:scaleX(1.0028)">208-473-9920</span></div>
<svg style="left:1859px;top:922.1px" width="22" height="22" viewBox="0 0 22 22"><path d="M1.1 20.9L3.19 16.98L18.44 2.57A1.4 1.4 0 0 1 20.36 4.61L5.11 19.02ZM3.19 16.98L5.11 19.02M16.47 4.42L18.39 6.46" fill="none" stroke="#c6c6c6" stroke-width="1.15" stroke-linejoin="round"/></svg>
<div class="r" style="left:1768.6px;top:933.4000000000001px;width:4px;height:1.9px;background:#222"></div>
<div class="t" style="left:2090.72px;top:919.50px;font-size:22.5px;line-height:29px;font-weight:normal;color:#000;"><span style="transform:scaleX(0.9782)">2022-07-28</span></div>
<div class="t" style="left:2209.52px;top:919.50px;font-size:22.5px;line-height:29px;font-weight:normal;color:#000;"><span style="transform:scaleX(0.9794)">14:34:32</span></div>
<div class="r" style="left:71px;top:994px;width:32px;height:32px;background:#fff;border:1px solid #d6d6d6;border-radius:8px"></div>
<div class="t" style="left:137.01px;top:995.88px;font-size:22.5px;line-height:29px;font-weight:normal;color:#303030;filter:blur(3.8px);"><span style="transform:scaleX(1.0079)">wyattwest321@gmail.com</span></div>
<svg style="left:503px;top:1000.2750000000001px" width="14" height="20"><path d="M2.9 2.1l8.3 7.9-8.3 7.9" stroke="#909090" stroke-width="2.7" fill="none" stroke-linecap="round" stroke-linejoin="round"/></svg>
<div class="r" style="left:566px;top:991.075px;width:44px;height:38px;background:#dffbe6;border-radius:5px"></div>
<div class="r" style="left:626px;top:991.075px;width:45px;height:38px;background:#dffbe6;border-radius:5px"></div>
<svg style="left:575px;top:1000.575px" width="26" height="19"><rect x="0.85" y="0.85" width="24.1" height="16.6" rx="1.8" fill="none" stroke="#25b04f" stroke-width="1.7"/><path d="M1.6 2.2L12.9 12.8L24.2 2.2M3.2 13.2L7.3 9.3M22.6 13.2L18.5 9.3" fill="none" stroke="#25b04f" stroke-width="1.7" stroke-linecap="round" stroke-linejoin="round"/></svg>
<svg style="left:636px;top:999.2750000000001px" width="26" height="21"><path d="M3.2 1.65H22a2.1 2.1 0 0 1 2.1 2.1V12.5a2.1 2.1 0 0 1-2.1 2.1H7.4L1.1 18.6V3.75a2.1 2.1 0 0 1 2.1-2.1z" fill="none" stroke="#25b04f" stroke-width="1.7" stroke-linejoin="round"/></svg>
<div class="r" style="left:789px;top:987.075px;width:96px;height:46px;background:#eee;border-radius:23px"></div>
<div class="t" style="left:806.00px;top:995.98px;font-size:20px;line-height:26px;font-weight:normal;color:#555;"><span style="transform:scaleX(1.0299)">Tenant</span></div>
<div class="t" style="left:957.10px;top:995.08px;font-size:22.5px;line-height:29px;font-weight:normal;color:#000;"><span style="transform:scaleX(0.9629)">Wyatt</span></div>
<div class="r" style="left:941px;top:1031.075px;width:289px;height:1px;border-top:1px dashed #c8c8c8"></div>
<svg style="left:1205px;top:996.075px" width="22" height="22" viewBox="0 0 22 22"><path d="M1.1 20.9L3.19 16.98L18.44 2.57A1.4 1.4 0 0 1 20.36 4.61L5.11 19.02ZM3.19 16.98L5.11 19.02M16.47 4.42L18.39 6.46" fill="none" stroke="#c6c6c6" stroke-width="1.15" stroke-linejoin="round"/></svg>
<div class="r" style="left:1443px;top:1031.075px;width:121px;height:1px;border-top:1px dashed #c8c8c8"></div>
<div class="t" style="left:1291.00px;top:995.08px;font-size:22.5px;line-height:29px;font-weight:normal;color:#000;filter:blur(3.6px);"><span style="transform:scaleX(0.9691)">West</span></div>
<svg style="left:1539px;top:996.075px" width="22" height="22" viewBox="0 0 22 22"><path d="M1.1 20.9L3.19 16.98L18.44 2.57A1.4 1.4 0 0 1 20.36 4.61L5.11 19.02ZM3.19 16.98L5.11 19.02M16.47 4.42L18.39 6.46" fill="none" stroke="#c6c6c6" stroke-width="1.15" stroke-linejoin="round"/></svg>
<svg style="left:1608px;top:1001.075px" width="32" height="18" viewBox="0 0 32 18"><rect width="32" height="18" fill="#ebb5c0"/><rect y="0.00" width="32" height="1.39" fill="#dc7f95"/><rect y="2.77" width="32" height="1.39" fill="#dc7f95"/><rect y="5.54" width="32" height="1.39" fill="#dc7f95"/><rect y="8.31" width="32" height="1.39" fill="#dc7f95"/><rect y="11.08" width="32" height="1.39" fill="#dc7f95"/><rect y="13.85" width="32" height="1.39" fill="#dc7f95"/><rect y="16.62" width="32" height="1.39" fill="#dc7f95"/><rect width="32" height="1" fill="#cf5d78"/><rect y="17" width="32" height="1" fill="#cf5d78"/><rect width="12.7" height="9.5" fill="#5a5a91"/></svg>
<div class="t" style="left:1655.70px;top:996.38px;font-size:22.5px;line-height:29px;font-weight:normal;color:#000;"><span style="transform:scaleX(0.9031)">+1</span></div>
<div class="t" style="left:1686.00px;top:994.88px;font-size:22.5px;line-height:29px;font-weight:normal;color:#000;filter:blur(4px);"><span style="transform:scaleX(1.0028)">208-577-8315</span></div>
<svg style="left:1859px;top:998.975px" width="22" height="22" viewBox="0 0 22 22"><path d="M1.1 20.9L3.19 16.98L18.44 2.57A1.4 1.4 0 0 1 20.36 4.61L5.11 19.02ZM3.19 16.98L5.11 19.02M16.47 4.42L18.39 6.46" fill="none" stroke="#c6c6c6" stroke-width="1.15" stroke-linejoin="round"/></svg>
<div class="t" style="left:2090.72px;top:996.38px;font-size:22.5px;line-height:29px;font-weight:normal;color:#000;"><span style="transform:scaleX(0.9782)">2022-07-28</span></div>
<div class="t" style="left:2209.52px;top:996.38px;font-size:22.5px;line-height:29px;font-weight:normal;color:#000;"><span style="transform:scaleX(0.9794)">14:34:32</span></div>
<div class="r" style="left:71px;top:1070px;width:32px;height:32px;background:#fff;border:1px solid #d6d6d6;border-radius:8px"></div>
<div class="t" style="left:136.00px;top:1072.75px;font-size:22.5px;line-height:29px;font-weight:normal;color:#303030;filter:blur(3.8px);"><span style="transform:scaleX(1.0103)">chwaterman83@gmail.com</span></div>
<svg style="left:503px;top:1077.15px" width="14" height="20"><path d="M2.9 2.1l8.3 7.9-8.3 7.9" stroke="#909090" stroke-width="2.7" fill="none" stroke-linecap="round" stroke-linejoin="round"/></svg>
<div class="r" style="left:566px;top:1067.95px;width:44px;height:38px;background:#dffbe6;border-radius:5px"></div>
<div class="r" style="left:626px;top:1067.95px;width:45px;height:38px;background:#dffbe6;border-radius:5px"></div>
<svg style="left:575px;top:1077.45px" width="26" height="19"><rect x="0.85" y="0.85" width="24.1" height="16.6" rx="1.8" fill="none" stroke="#25b04f" stroke-width="1.7"/><path d="M1.6 2.2L12.9 12.8L24.2 2.2M3.2 13.2L7.3 9.3M22.6 13.2L18.5 9.3" fill="none" stroke="#25b04f" stroke-width="1.7" stroke-linecap="round" stroke-linejoin="round"/></svg>
<svg style="left:636px;top:1076.15px" width="26" height="21"><path d="M3.2 1.65H22a2.1 2.1 0 0 1 2.1 2.1V12.5a2.1 2.1 0 0 1-2.1 2.1H7.4L1.1 18.6V3.75a2.1 2.1 0 0 1 2.1-2.1z" fill="none" stroke="#25b04f" stroke-width="1.7" stroke-linejoin="round"/></svg>
<div class="r" style="left:789px;top:1063.95px;width:96px;height:46px;background:#eee;border-radius:23px"></div>
<div class="t" style="left:806.00px;top:1072.85px;font-size:20px;line-height:26px;font-weight:normal;color:#555;"><span style="transform:scaleX(1.0299)">Tenant</span></div>
<div class="t" style="left:956.11px;top:1071.95px;font-size:22.5px;line-height:29px;font-weight:normal;color:#000;"><span style="transform:scaleX(0.9860)">Candice</span></div>
<div class="r" style="left:941px;top:1107.95px;width:289px;height:1px;border-top:1px dashed #c8c8c8"></div>
<svg style="left:1205px;top:1072.95px" width="22" height="22" viewBox="0 0 22 22"><path d="M1.1 20.9L3.19 16.98L18.44 2.57A1.4 1.4 0 0 1 20.36 4.61L5.11 19.02ZM3.19 16.98L5.11 19.02M16.47 4.42L18.39 6.46" fill="none" stroke="#c6c6c6" stroke-width="1.15" stroke-linejoin="round"/></svg>
<div class="r" style="left:1443px;top:1107.95px;width:121px;height:1px;border-top:1px dashed #c8c8c8"></div>
<div class="t" style="left:1291.00px;top:1071.95px;font-size:22.5px;line-height:29px;font-weight:normal;color:#000;filter:blur(3.6px);"><span style="transform:scaleX(0.9958)">Waterman</span></div>
<svg style="left:1539px;top:1072.95px" width="22" height="22" viewBox="0 0 22 22"><path d="M1.1 20.9L3.19 16.98L18.44 2.57A1.4 1.4 0 0 1 20.36 4.61L5.11 19.02ZM3.19 16.98L5.11 19.02M16.47 4.42L18.39 6.46" fill="none" stroke="#c6c6c6" stroke-width="1.15" stroke-linejoin="round"/></svg>
<svg style="left:1608px;top:1077.95px" width="32" height="18" viewBox="0 0 32 18"><rect width="32" height="18" fill="#ebb5c0"/><rect y="0.00" width="32" height="1.39" fill="#dc7f95"/><rect y="2.77" width="32" height="1.39" fill="#dc7f95"/><rect y="5.54" width="32" height="1.39" fill="#dc7f95"/><rect y="8.31" width="32" height="1.39" fill="#dc7f95"/><rect y="11.08" width="32" height="1.39" fill="#dc7f95"/><rect y="13.85" width="32" height="1.39" fill="#dc7f95"/><rect y="16.62" width="32" height="1.39" fill="#dc7f95"/><rect width="32" height="1" fill="#cf5d78"/><rect y="17" width="32" height="1" fill="#cf5d78"/><rect width="12.7" height="9.5" fill="#5a5a91"/></svg>
<div class="t" style="left:1655.70px;top:1073.25px;font-size:22.5px;line-height:29px;font-weight:normal;color:#000;"><span style="transform:scaleX(0.9031)">+1</span></div>
<div class="t" style="left:1686.00px;top:1071.75px;font-size:22.5px;line-height:29px;font-weight:normal;color:#000;filter:blur(4px);"><span style="transform:scaleX(1.0028)">208-972-4677</span></div>
<svg style="left:1859px;top:1075.8500000000001px" width="22" height="22" viewBox="0 0 22 22"><path d="M1.1 20.9L3.19 16.98L18.44 2.57A1.4 1.4 0 0 1 20.36 4.61L5.11 19.02ZM3.19 16.98L5.11 19.02M16.47 4.42L18.39 6.46" fill="none" stroke="#c6c6c6" stroke-width="1.15" stroke-linejoin="round"/></svg>
<div class="t" style="left:2090.72px;top:1073.25px;font-size:22.5px;line-height:29px;font-weight:normal;color:#000;"><span style="transform:scaleX(0.9782)">2022-07-28</span></div>
<div class="t" style="left:2209.52px;top:1073.25px;font-size:22.5px;line-height:29px;font-weight:normal;color:#000;"><span style="transform:scaleX(0.9794)">14:34:32</span></div>
<div class="r" style="left:71px;top:1147px;width:32px;height:32px;background:#fff;border:1px solid #d6d6d6;border-radius:8px"></div>
<div class="t" style="left:136.00px;top:1149.62px;font-size:22.5px;line-height:29px;font-weight:normal;color:#303030;filter:blur(3.8px);"><span style="transform:scaleX(1.0034)">cvlasic2000@gmail.com</span></div>
<svg style="left:503px;top:1154.025px" width="14" height="20"><path d="M2.9 2.1l8.3 7.9-8.3 7.9" stroke="#909090" stroke-width="2.7" fill="none" stroke-linecap="round" stroke-linejoin="round"/></svg>
<div class="r" style="left:566px;top:1144.825px;width:44px;height:38px;background:#dffbe6;border-radius:5px"></div>
<div class="r" style="left:626px;top:1144.825px;width:45px;height:38px;background:#dffbe6;border-radius:5px"></div>
<svg style="left:575px;top:1154.325px" width="26" height="19"><rect x="0.85" y="0.85" width="24.1" height="16.6" rx="1.8" fill="none" stroke="#25b04f" stroke-width="1.7"/><path d="M1.6 2.2L12.9 12.8L24.2 2.2M3.2 13.2L7.3 9.3M22.6 13.2L18.5 9.3" fill="none" stroke="#25b04f" stroke-width="1.7" stroke-linecap="round" stroke-linejoin="round"/></svg>
<svg style="left:636px;top:1153.025px" width="26" height="21"><path d="M3.2 1.65H22a2.1 2.1 0 0 1 2.1 2.1V12.5a2.1 2.1 0 0 1-2.1 2.1H7.4L1.1 18.6V3.75a2.1 2.1 0 0 1 2.1-2.1z" fill="none" stroke="#25b04f" stroke-width="1.7" stroke-linejoin="round"/></svg>
<div class="r" style="left:789px;top:1140.825px;width:96px;height:46px;background:#eee;border-radius:23px"></div>
<div class="t" style="left:806.00px;top:1149.73px;font-size:20px;line-height:26px;font-weight:normal;color:#555;"><span style="transform:scaleX(1.0299)">Tenant</span></div>
<div class="t" style="left:956.12px;top:1148.83px;font-size:22.5px;line-height:29px;font-weight:normal;color:#000;"><span style="transform:scaleX(0.9764)">Claire</span></div>
<div class="r" style="left:941px;top:1184.825px;width:289px;height:1px;border-top:1px dashed #c8c8c8"></div>
<svg style="left:1205px;top:1149.825px" width="22" height="22" viewBox="0 0 22 22"><path d="M1.1 20.9L3.19 16.98L18.44 2.57A1.4 1.4 0 0 1 20.36 4.61L5.11 19.02ZM3.19 16.98L5.11 19.02M16.47 4.42L18.39 6.46" fill="none" stroke="#c6c6c6" stroke-width="1.15" stroke-linejoin="round"/></svg>
<div class="r" style="left:1443px;top:1184.825px;width:121px;height:1px;border-top:1px dashed #c8c8c8"></div>
<div class="t" style="left:1291.00px;top:1148.83px;font-size:22.5px;line-height:29px;font-weight:normal;color:#000;filter:blur(3.6px);"><span style="transform:scaleX(0.9704)">Vlasic</span></div>
<svg style="left:1539px;top:1149.825px" width="22" height="22" viewBox="0 0 22 22"><path d="M1.1 20.9L3.19 16.98L18.44 2.57A1.4 1.4 0 0 1 20.36 4.61L5.11 19.02ZM3.19 16.98L5.11 19.02M16.47 4.42L18.39 6.46" fill="none" stroke="#c6c6c6" stroke-width="1.15" stroke-linejoin="round"/></svg>
<svg style="left:1608px;top:1154.825px" width="32" height="18" viewBox="0 0 32 18"><rect width="32" height="18" fill="#ebb5c0"/><rect y="0.00" width="32" height="1.39" fill="#dc7f95"/><rect y="2.77" width="32" height="1.39" fill="#dc7f95"/><rect y="5.54" width="32" height="1.39" fill="#dc7f95"/><rect y="8.31" width="32" height="1.39" fill="#dc7f95"/><rect y="11.08" width="32" height="1.39" fill="#dc7f95"/><rect y="13.85" width="32" height="1.39" fill="#dc7f95"/><rect y="16.62" width="32" height="1.39" fill="#dc7f95"/><rect width="32" height="1" fill="#cf5d78"/><rect y="17" width="32" height="1" fill="#cf5d78"/><rect width="12.7" height="9.5" fill="#5a5a91"/></svg>
<div class="t" style="left:1655.70px;top:1150.12px;font-size:22.5px;line-height:29px;font-weight:normal;color:#000;"><span style="transform:scaleX(0.9031)">+1</span></div>
<div class="t" style="left:1686.00px;top:1148.62px;font-size:22.5px;line-height:29px;font-weight:normal;color:#000;filter:blur(4px);"><span style="transform:scaleX(1.0028)">949-212-5847</span></div>
<svg style="left:1859px;top:1152.7250000000001px" width="22" height="22" viewBox="0 0 22 22"><path d="M1.1 20.9L3.19 16.98L18.44 2.57A1.4 1.4 0 0 1 20.36 4.61L5.11 19.02ZM3.19 16.98L5.11 19.02M16.47 4.42L18.39 6.46" fill="none" stroke="#c6c6c6" stroke-width="1.15" stroke-linejoin="round"/></svg>
<div class="t" style="left:2090.72px;top:1150.12px;font-size:22.5px;line-height:29px;font-weight:normal;color:#000;"><span style="transform:scaleX(0.9782)">2022-07-28</span></div>
<div class="t" style="left:2209.52px;top:1150.12px;font-size:22.5px;line-height:29px;font-weight:normal;color:#000;"><span style="transform:scaleX(0.9794)">14:34:32</span></div>
<div class="r" style="left:71px;top:1224px;width:32px;height:32px;background:#fff;border:1px solid #d6d6d6;border-radius:8px"></div>
<div class="t" style="left:136.00px;top:1226.50px;font-size:22.5px;line-height:29px;font-weight:normal;color:#303030;filter:blur(3.8px);"><span style="transform:scaleX(0.9925)">shanevickery@gmail.com</span></div>
<svg style="left:503px;top:1230.9px" width="14" height="20"><path d="M2.9 2.1l8.3 7.9-8.3 7.9" stroke="#909090" stroke-width="2.7" fill="none" stroke-linecap="round" stroke-linejoin="round"/></svg>
<div class="r" style="left:566px;top:1221.7px;width:44px;height:38px;background:#dffbe6;border-radius:5px"></div>
<div class="r" style="left:626px;top:1221.7px;width:45px;height:38px;background:#dffbe6;border-radius:5px"></div>
<svg style="left:575px;top:1231.2px" width="26" height="19"><rect x="0.85" y="0.85" width="24.1" height="16.6" rx="1.8" fill="none" stroke="#25b04f" stroke-width="1.7"/><path d="M1.6 2.2L12.9 12.8L24.2 2.2M3.2 13.2L7.3 9.3M22.6 13.2L18.5 9.3" fill="none" stroke="#25b04f" stroke-width="1.7" stroke-linecap="round" stroke-linejoin="round"/></svg>
<svg style="left:636px;top:1229.9px" width="26" height="21"><path d="M3.2 1.65H22a2.1 2.1 0 0 1 2.1 2.1V12.5a2.1 2.1 0 0 1-2.1 2.1H7.4L1.1 18.6V3.75a2.1 2.1 0 0 1 2.1-2.1z" fill="none" stroke="#25b04f" stroke-width="1.7" stroke-linejoin="round"/></svg>
<div class="r" style="left:789px;top:1217.7px;width:96px;height:46px;background:#eee;border-radius:23px"></div>
<div class="t" style="left:806.00px;top:1226.60px;font-size:20px;line-height:26px;font-weight:normal;color:#555;"><span style="transform:scaleX(1.0299)">Tenant</span></div>
<div class="t" style="left:956.14px;top:1225.70px;font-size:22.5px;line-height:29px;font-weight:normal;color:#000;"><span style="transform:scaleX(0.9583)">Shane</span></div>
<div class="r" style="left:941px;top:1261.7px;width:289px;height:1px;border-top:1px dashed #c8c8c8"></div>
<svg style="left:1205px;top:1226.7px" width="22" height="22" viewBox="0 0 22 22"><path d="M1.1 20.9L3.19 16.98L18.44 2.57A1.4 1.4 0 0 1 20.36 4.61L5.11 19.02ZM3.19 16.98L5.11 19.02M16.47 4.42L18.39 6.46" fill="none" stroke="#c6c6c6" stroke-width="1.15" stroke-linejoin="round"/></svg>
<div class="r" style="left:1443px;top:1261.7px;width:121px;height:1px;border-top:1px dashed #c8c8c8"></div>
<div class="t" style="left:1291.00px;top:1225.70px;font-size:22.5px;line-height:29px;font-weight:normal;color:#000;filter:blur(3.6px);"><span style="transform:scaleX(0.9716)">Vickery</span></div>
<svg style="left:1539px;top:1226.7px" width="22" height="22" viewBox="0 0 22 22"><path d="M1.1 20.9L3.19 16.98L18.44 2.57A1.4 1.4 0 0 1 20.36 4.61L5.11 19.02ZM3.19 16.98L5.11 19.02M16.47 4.42L18.39 6.46" fill="none" stroke="#c6c6c6" stroke-width="1.15" stroke-linejoin="round"/></svg>
<svg style="left:1608px;top:1231.7px" width="32" height="18" viewBox="0 0 32 18"><rect width="32" height="18" fill="#ebb5c0"/><rect y="0.00" width="32" height="1.39" fill="#dc7f95"/><rect y="2.77" width="32" height="1.39" fill="#dc7f95"/><rect y="5.54" width="32" height="1.39" fill="#dc7f95"/><rect y="8.31" width="32" height="1.39" fill="#dc7f95"/><rect y="11.08" width="32" height="1.39" fill="#dc7f95"/><rect y="13.85" width="32" height="1.39" fill="#dc7f95"/><rect y="16.62" width="32" height="1.39" fill="#dc7f95"/><rect width="32" height="1" fill="#cf5d78"/><rect y="17" width="32" height="1" fill="#cf5d78"/><rect width="12.7" height="9.5" fill="#5a5a91"/></svg>
<div class="t" style="left:1655.70px;top:1227.00px;font-size:22.5px;line-height:29px;font-weight:normal;color:#000;"><span style="transform:scaleX(0.9031)">+1</span></div>
<div class="t" style="left:1686.00px;top:1225.50px;font-size:22.5px;line-height:29px;font-weight:normal;color:#000;filter:blur(4px);"><span style="transform:scaleX(1.0028)">208-872-5162</span></div>
<svg style="left:1859px;top:1229.6000000000001px" width="22" height="22" viewBox="0 0 22 22"><path d="M1.1 20.9L3.19 16.98L18.44 2.57A1.4 1.4 0 0 1 20.36 4.61L5.11 19.02ZM3.19 16.98L5.11 19.02M16.47 4.42L18.39 6.46" fill="none" stroke="#c6c6c6" stroke-width="1.15" stroke-linejoin="round"/></svg>
<div class="t" style="left:2090.72px;top:1227.00px;font-size:22.5px;line-height:29px;font-weight:normal;color:#000;"><span style="transform:scaleX(0.9782)">2022-07-28</span></div>
<div class="t" style="left:2209.52px;top:1227.00px;font-size:22.5px;line-height:29px;font-weight:normal;color:#000;"><span style="transform:scaleX(0.9794)">14:34:32</span></div>
<div class="r" style="left:533px;top:513px;width:1px;height:770px;background:#dcdcdc"></div>
<div class="r" style="left:2311px;top:513px;width:26px;height:770px;background:linear-gradient(to right, rgba(0,0,0,.012), rgba(0,0,0,.065))"></div>
<div class="r" style="left:39px;top:1258px;width:2298px;height:18px;background:linear-gradient(to bottom, rgba(0,0,0,0), rgba(0,0,0,.035))"></div>
<div class="r" style="left:1772px;top:396px;width:319.5px;height:563.5px;background:#fff;border:1px solid #ddd;border-radius:8px;box-shadow:0 2px 6px rgba(0,0,0,.12)"></div>
<div class="r" style="left:1798px;top:414px;width:32px;height:32px;background:#fff;border:1px solid #d8d8d8;border-radius:8px"></div>
<div class="t" style="left:1846.40px;top:415.00px;font-size:20.5px;line-height:27px;font-weight:normal;color:#000;"><span style="transform:scaleX(0.9387)">Open</span></div>
<div class="t" style="left:1898.79px;top:415.00px;font-size:20.5px;line-height:27px;font-weight:normal;color:#000;"><span style="transform:scaleX(1.0128)">House</span></div>
<div class="r" style="left:1774px;top:465px;width:309px;height:1px;background:#ddd"></div>
<div class="r" style="left:1798px;top:484px;width:32px;height:32px;background:#fff;border:1px solid #d8d8d8;border-radius:8px"></div>
<div class="t" style="left:1846.40px;top:485.00px;font-size:20.5px;line-height:27px;font-weight:normal;color:#000;"><span style="transform:scaleX(0.9387)">Open</span></div>
<div class="t" style="left:1898.79px;top:485.00px;font-size:20.5px;line-height:27px;font-weight:normal;color:#000;"><span style="transform:scaleX(1.0128)">House</span></div>
<div class="t" style="left:1964.80px;top:485.00px;font-size:20.5px;line-height:27px;font-weight:normal;color:#000;"><span style="transform:scaleX(0.9574)">Sign</span></div>
<div class="t" style="left:2010.04px;top:485.00px;font-size:20.5px;line-height:27px;font-weight:normal;color:#000;"><span style="transform:scaleX(0.9621)">In</span></div>
<div class="r" style="left:1774px;top:535px;width:309px;height:1px;background:#ddd"></div>
<div class="r" style="left:1798px;top:554px;width:32px;height:32px;background:#fff;border:1px solid #d8d8d8;border-radius:8px"></div>
<div class="t" style="left:1846.40px;top:555.00px;font-size:20.5px;line-height:27px;font-weight:normal;color:#000;"><span style="transform:scaleX(0.9678)">Owner</span></div>
<div class="r" style="left:1774px;top:605px;width:309px;height:1px;background:#ddd"></div>
<div class="r" style="left:1798px;top:625px;width:32px;height:32px;background:#fff;border:1px solid #d8d8d8;border-radius:8px"></div>
<div class="t" style="left:1846.60px;top:626.00px;font-size:20.5px;line-height:27px;font-weight:normal;color:#000;"><span style="transform:scaleX(0.9547)">Seller</span></div>
<div class="r" style="left:1774px;top:676px;width:309px;height:1px;background:#ddd"></div>
<div class="r" style="left:1798px;top:695px;width:32px;height:32px;background:#fff;border:1px solid #d8d8d8;border-radius:8px"></div>
<div class="t" style="left:1846.60px;top:696.00px;font-size:20.5px;line-height:27px;font-weight:normal;color:#000;"><span style="transform:scaleX(0.9589)">Sphere</span></div>
<div class="r" style="left:1774px;top:746px;width:309px;height:1px;background:#ddd"></div>
<div class="r" style="left:1798px;top:765px;width:32px;height:32px;background:#fff;border:1px solid #d8d8d8;border-radius:8px"></div>
<div class="t" style="left:1846.20px;top:766.00px;font-size:20.5px;line-height:27px;font-weight:normal;color:#000;"><span style="transform:scaleX(1.0234)">tags</span></div>
<div class="r" style="left:1774px;top:816px;width:309px;height:1px;background:#ddd"></div>
<div class="r" style="left:1798px;top:836px;width:32px;height:32px;background:#ff8a00;border-radius:7px"></div>
<svg style="left:1798px;top:836px" width="32" height="32"><path d="M8.5 14.8l4.9 4.9L22.9 8.9" stroke="#fff" stroke-width="3.6" fill="none"/></svg>
<div class="t" style="left:1846.40px;top:837.00px;font-size:20.5px;line-height:27px;font-weight:normal;color:#000;"><span style="transform:scaleX(1.0088)">Tenant</span></div>
<div class="r" style="left:1774px;top:887px;width:309px;height:1px;background:#ddd"></div>
<div class="r" style="left:1798px;top:907px;width:32px;height:32px;background:#fff;border:1px solid #d8d8d8;border-radius:8px"></div>
<div class="t" style="left:1846.50px;top:908.00px;font-size:20.5px;line-height:27px;font-weight:normal;color:#000;"><span style="transform:scaleX(0.9947)">Test</span></div>
<div class="t" style="left:1891.20px;top:908.00px;font-size:20.5px;line-height:27px;font-weight:normal;color:#000;"><span style="transform:scaleX(1.0052)">group</span></div>
<div class="t" style="left:1949.74px;top:908.00px;font-size:20.5px;line-height:27px;font-weight:normal;color:#000;"><span style="transform:scaleX(0.9621)">(office@o&hellip;</span></div>
<div class="r" style="left:2083px;top:679px;width:7px;height:279px;background:#888;border-radius:4px"></div>
</div>
</body></html>
